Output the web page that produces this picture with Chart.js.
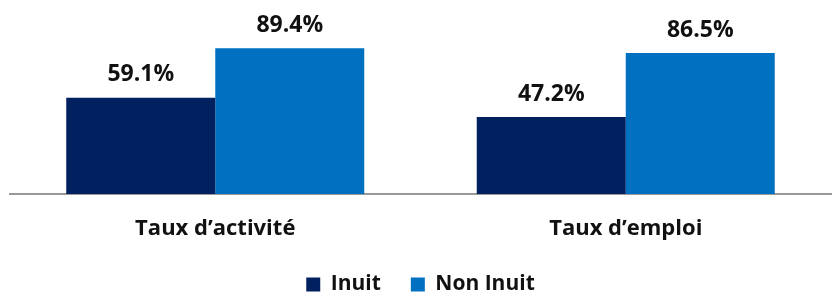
<!DOCTYPE html>
<html>
<head>
<meta charset="utf-8">
<script src="https://cdn.jsdelivr.net/npm/chart.js@4"></script>
<style>
  html, body { margin: 0; padding: 0; background: #fff; }
  #wrap { width: 833px; height: 293px; }
</style>
</head>
<body>
<div id="wrap"><canvas id="chart" width="833" height="293"></canvas></div>
<script>
// categories and series
const categories = ['Taux d\u2019activité', 'Taux d\u2019emploi'];
const inuit = [59.1, 47.2];
const nonInuit = [89.4, 86.5];
const seriesNames = ['Inuit', 'Non Inuit'];

const FONT = "'Open Sans', sans-serif";

// value labels above bars
const valueLabels = {
    id: 'valueLabels',
    afterDatasetsDraw(chart) {
        const ctx = chart.ctx;
        ctx.save();
        ctx.font = 'bold 23px ' + FONT;
        ctx.fillStyle = '#111';
        ctx.textAlign = 'center';
        ctx.textBaseline = 'middle';
        chart.data.datasets.forEach((ds, i) => {
            chart.getDatasetMeta(i).data.forEach((bar, j) => {
                ctx.fillText(ds.data[j].toFixed(1) + '%', bar.x, bar.y - 23);
            });
        });
        ctx.restore();
    }
};

new Chart(document.getElementById('chart'), {
    type: 'bar',
    data: {
        labels: categories,
        datasets: [
            { label: seriesNames[0], data: inuit, backgroundColor: '#002060' },
            { label: seriesNames[1], data: nonInuit, backgroundColor: '#0070C0' }
        ]
    },
    options: {
        responsive: false,
        animation: false,
        layout: { padding: { top: 31, left: 10, right: 2, bottom: -12 } },
        datasets: { bar: { categoryPercentage: 0.726, barPercentage: 1.0 } },
        plugins: {
            tooltip: { enabled: false },
            legend: {
                position: 'bottom',
                labels: {
                    font: { family: FONT, size: 21, weight: 'bold' },
                    color: '#111',
                    boxWidth: 14,
                    boxHeight: 14,
                    padding: 30
                }
            }
        },
        scales: {
            x: {
                grid: { display: false },
                border: { color: '#999', width: 2 },
                ticks: {
                    font: { family: FONT, size: 22, weight: 'bold' },
                    color: '#111',
                    padding: 14
                },
                afterFit(scale) {
                    scale.height = 50;
                }
            },
            y: {
                display: false,
                min: 0,
                max: 100
            }
        }
    },
    plugins: [valueLabels]
});
</script>
</body>
</html>
